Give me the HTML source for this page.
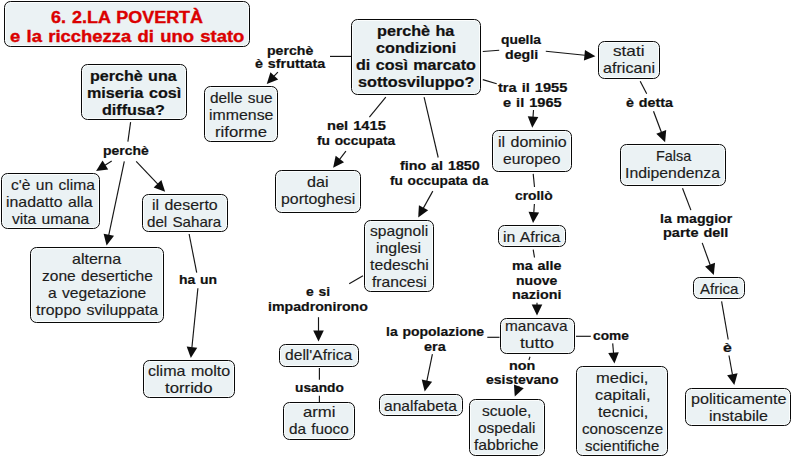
<!DOCTYPE html><html><head><meta charset="utf-8"><style>
html,body{margin:0;padding:0;background:#fff;width:793px;height:457px;overflow:hidden;position:relative}
.bx{position:absolute;box-sizing:border-box;border:1.4px solid #080808;border-radius:6.5px;background:#ebf2f4;box-shadow:inset 0 0 0 1px #fbfdfd}
.t{position:absolute;white-space:nowrap;transform-origin:0 0;font-family:"Liberation Sans",sans-serif}.n{-webkit-text-stroke:0.15px #1c1c1c}.k{-webkit-text-stroke:0.2px #111}.r{-webkit-text-stroke:0.35px #d00000}
svg{position:absolute;left:0;top:0}
</style></head><body>
<svg width="793" height="457" viewBox="0 0 793 457"><g stroke="#151515" stroke-width="1.15" fill="none" stroke-linecap="butt"><line x1="330" y1="56.4" x2="351" y2="56.4"/><line x1="482.8" y1="51.5" x2="499.2" y2="50.2"/><line x1="482.8" y1="79.6" x2="496.7" y2="83.7"/><line x1="640.2" y1="81.2" x2="646.7" y2="93.8"/><line x1="130.6" y1="122.2" x2="127.9" y2="141.6"/><line x1="385.8" y1="97.1" x2="369.4" y2="117.2"/><line x1="424.1" y1="97.1" x2="438.2" y2="157.5"/><line x1="533.2" y1="173.9" x2="534.5" y2="187"/><line x1="682.5" y1="188.3" x2="690.9" y2="210.1"/><line x1="189.1" y1="234" x2="196.7" y2="272.6"/><line x1="363" y1="275.7" x2="349.2" y2="283.7"/><line x1="319.4" y1="368" x2="319.4" y2="379.8"/><line x1="319.4" y1="395.7" x2="319.4" y2="402"/><line x1="533.2" y1="249.7" x2="534.5" y2="257.5"/><line x1="499.5" y1="337.3" x2="487.3" y2="337.3"/><line x1="576" y1="336.3" x2="590.8" y2="336.3"/><line x1="530" y1="356.7" x2="528.9" y2="360"/><line x1="721.6" y1="301.3" x2="728.2" y2="339.5"/><line x1="277.9" y1="72.1" x2="274.04" y2="76.21"/><line x1="545.8" y1="51.3" x2="584.85" y2="55.2"/><line x1="533.5" y1="110" x2="533" y2="117.12"/><line x1="653.5" y1="111.3" x2="661.38" y2="132.24"/><line x1="111.7" y1="161" x2="105.04" y2="165.23"/><line x1="124.3" y1="161.3" x2="108.76" y2="235.11"/><line x1="136.2" y1="161.3" x2="157.81" y2="184.05"/><line x1="345.9" y1="151.2" x2="339.6" y2="159.38"/><line x1="432.8" y1="191.1" x2="423.35" y2="208.15"/><line x1="534.4" y1="204" x2="533.8" y2="212.42"/><line x1="702.2" y1="242.9" x2="710.2" y2="265"/><line x1="197.9" y1="288.3" x2="191.91" y2="347.55"/><line x1="318.5" y1="317.2" x2="318.5" y2="330.9"/><line x1="537" y1="302.8" x2="537" y2="305"/><line x1="432.4" y1="354.2" x2="426.83" y2="381.01"/><line x1="612.7" y1="343.4" x2="613.54" y2="353.04"/><line x1="519" y1="386" x2="518.71" y2="386.72"/><line x1="729" y1="355.5" x2="732.44" y2="374.66"/></g><g fill="#0d0d0d" stroke="none"><polygon points="266.79,83.94 270.45,72.29 278.18,79.54"/><polygon points="595.4,56.26 583.92,60.44 584.98,49.89"/><polygon points="532.26,127.7 527.74,116.35 538.32,117.1"/><polygon points="665.11,142.16 656.28,133.73 666.2,130"/><polygon points="96.09,170.92 102.53,160.55 108.22,169.49"/><polygon points="106.58,245.49 103.66,233.63 114.03,235.81"/><polygon points="165.11,191.73 153.69,187.41 161.38,180.11"/><polygon points="333.13,167.78 335.65,155.83 344.04,162.29"/><polygon points="418.21,217.42 418.91,205.23 428.18,210.37"/><polygon points="533.06,223 528.55,211.65 539.12,212.4"/><polygon points="713.8,274.96 705.08,266.42 715.04,262.82"/><polygon points="190.84,358.1 186.67,346.62 197.22,347.69"/><polygon points="318.5,341.5 313.2,330.5 323.8,330.5"/><polygon points="537,315.6 531.7,304.6 542.3,304.6"/><polygon points="424.68,391.39 421.73,379.54 432.1,381.69"/><polygon points="614.45,363.6 608.22,353.1 618.78,352.18"/><polygon points="514.78,396.56 513.94,384.38 523.78,388.31"/><polygon points="734.31,385.09 727.15,375.2 737.58,373.33"/></g></svg>
<div class="bx" style="left:4px;top:1px;width:246px;height:46px"></div>
<div class="bx" style="left:81px;top:64px;width:106px;height:56px"></div>
<div class="bx" style="left:351px;top:19px;width:130px;height:76px"></div>
<div class="bx" style="left:204px;top:86px;width:74px;height:56px"></div>
<div class="bx" style="left:598px;top:41px;width:62px;height:38px"></div>
<div class="bx" style="left:1px;top:173px;width:99px;height:56px"></div>
<div class="bx" style="left:142px;top:194px;width:86px;height:38px"></div>
<div class="bx" style="left:275px;top:170px;width:86px;height:43px"></div>
<div class="bx" style="left:492px;top:130px;width:80px;height:42px"></div>
<div class="bx" style="left:620px;top:144px;width:106px;height:42px"></div>
<div class="bx" style="left:30px;top:247px;width:134px;height:76px"></div>
<div class="bx" style="left:364px;top:220px;width:70px;height:72px"></div>
<div class="bx" style="left:498px;top:225px;width:68px;height:22px"></div>
<div class="bx" style="left:693px;top:277px;width:52px;height:22px"></div>
<div class="bx" style="left:143px;top:360px;width:92px;height:38px"></div>
<div class="bx" style="left:279px;top:344px;width:80px;height:23px"></div>
<div class="bx" style="left:283px;top:402px;width:72px;height:38px"></div>
<div class="bx" style="left:500px;top:318px;width:75px;height:36px"></div>
<div class="bx" style="left:379px;top:394px;width:84px;height:22px"></div>
<div class="bx" style="left:469px;top:399px;width:76px;height:57px"></div>
<div class="bx" style="left:576px;top:366px;width:92px;height:90px"></div>
<div class="bx" style="left:685px;top:388px;width:106px;height:38px"></div>
<div class="t r" style="left:51.27px;top:8.51px;font-size:15.6px;line-height:18.72px;font-weight:bold;color:#df0000;transform:scaleX(1.1491);word-spacing:1px">6. 2.LA POVERTÀ</div>
<div class="t r" style="left:10.16px;top:27.51px;font-size:15.6px;line-height:18.72px;font-weight:bold;color:#df0000;transform:scaleX(1.1820);word-spacing:1px">e la ricchezza di uno stato</div>
<div class="t k" style="left:89.86px;top:67.5px;font-size:14px;line-height:16.8px;font-weight:bold;color:#111;transform:scaleX(1.1483);word-spacing:0.8px">perchè una</div>
<div class="t k" style="left:86.85px;top:84.5px;font-size:14px;line-height:16.8px;font-weight:bold;color:#111;transform:scaleX(1.1532);word-spacing:0.8px">miseria così</div>
<div class="t k" style="left:102.35px;top:101.5px;font-size:14px;line-height:16.8px;font-weight:bold;color:#111;transform:scaleX(1.1538);word-spacing:0.8px">diffusa?</div>
<div class="t k" style="left:376.65px;top:22.5px;font-size:14px;line-height:16.8px;font-weight:bold;color:#111;transform:scaleX(1.1559);word-spacing:0.8px">perchè ha</div>
<div class="t k" style="left:375.95px;top:39.5px;font-size:14px;line-height:16.8px;font-weight:bold;color:#111;transform:scaleX(1.1597);word-spacing:0.8px">condizioni</div>
<div class="t k" style="left:355.86px;top:56.5px;font-size:14px;line-height:16.8px;font-weight:bold;color:#111;transform:scaleX(1.1496);word-spacing:0.8px">di così marcato</div>
<div class="t k" style="left:357.83px;top:73.5px;font-size:14px;line-height:16.8px;font-weight:bold;color:#111;transform:scaleX(1.1600);word-spacing:0.8px">sottosviluppo?</div>
<div class="t n" style="left:209.88px;top:89.51px;font-size:14.6px;line-height:17.52px;font-weight:normal;color:#1c1c1c;transform:scaleX(1.0541);word-spacing:0.9px">delle sue</div>
<div class="t n" style="left:208.67px;top:106.51px;font-size:14.6px;line-height:17.52px;font-weight:normal;color:#1c1c1c;transform:scaleX(1.0886);word-spacing:0.9px">immense</div>
<div class="t n" style="left:214.81px;top:123.51px;font-size:14.6px;line-height:17.52px;font-weight:normal;color:#1c1c1c;transform:scaleX(1.1461);word-spacing:0.9px">riforme</div>
<div class="t n" style="left:613.28px;top:42.51px;font-size:14.6px;line-height:17.52px;font-weight:normal;color:#1c1c1c;transform:scaleX(1.1764);word-spacing:0.9px">stati</div>
<div class="t n" style="left:602.85px;top:59.51px;font-size:14.6px;line-height:17.52px;font-weight:normal;color:#1c1c1c;transform:scaleX(1.1082);word-spacing:0.9px">africani</div>
<div class="t n" style="left:10.68px;top:176.51px;font-size:14.6px;line-height:17.52px;font-weight:normal;color:#1c1c1c;transform:scaleX(1.0698);word-spacing:0.9px">c&#39;è un clima</div>
<div class="t n" style="left:6.47px;top:193.51px;font-size:14.6px;line-height:17.52px;font-weight:normal;color:#1c1c1c;transform:scaleX(1.0884);word-spacing:0.9px">inadatto alla</div>
<div class="t n" style="left:11.52px;top:210.51px;font-size:14.6px;line-height:17.52px;font-weight:normal;color:#1c1c1c;transform:scaleX(1.0689);word-spacing:0.9px">vita umana</div>
<div class="t n" style="left:151.76px;top:196.51px;font-size:14.6px;line-height:17.52px;font-weight:normal;color:#1c1c1c;transform:scaleX(1.0927);word-spacing:0.9px">il deserto</div>
<div class="t n" style="left:146.89px;top:213.51px;font-size:14.6px;line-height:17.52px;font-weight:normal;color:#1c1c1c;transform:scaleX(1.0394);word-spacing:0.9px">del Sahara</div>
<div class="t n" style="left:307.45px;top:173.51px;font-size:14.6px;line-height:17.52px;font-weight:normal;color:#1c1c1c;transform:scaleX(1.1071);word-spacing:0.9px">dai</div>
<div class="t n" style="left:280.87px;top:190.51px;font-size:14.6px;line-height:17.52px;font-weight:normal;color:#1c1c1c;transform:scaleX(1.0893);word-spacing:0.9px">portoghesi</div>
<div class="t n" style="left:497.96px;top:133.51px;font-size:14.6px;line-height:17.52px;font-weight:normal;color:#1c1c1c;transform:scaleX(1.0974);word-spacing:0.9px">il dominio</div>
<div class="t n" style="left:503.37px;top:150.51px;font-size:14.6px;line-height:17.52px;font-weight:normal;color:#1c1c1c;transform:scaleX(1.0722);word-spacing:0.9px">europeo</div>
<div class="t n" style="left:655.55px;top:147.51px;font-size:14.6px;line-height:17.52px;font-weight:normal;color:#1c1c1c;transform:scaleX(0.9876);word-spacing:0.9px">Falsa</div>
<div class="t n" style="left:625.28px;top:164.51px;font-size:14.6px;line-height:17.52px;font-weight:normal;color:#1c1c1c;transform:scaleX(1.0838);word-spacing:0.9px">Indipendenza</div>
<div class="t n" style="left:72.46px;top:250.51px;font-size:14.6px;line-height:17.52px;font-weight:normal;color:#1c1c1c;transform:scaleX(1.0995);word-spacing:0.9px">alterna</div>
<div class="t n" style="left:41.88px;top:267.51px;font-size:14.6px;line-height:17.52px;font-weight:normal;color:#1c1c1c;transform:scaleX(1.0668);word-spacing:0.9px">zone desertiche</div>
<div class="t n" style="left:48.17px;top:284.51px;font-size:14.6px;line-height:17.52px;font-weight:normal;color:#1c1c1c;transform:scaleX(1.0713);word-spacing:0.9px">a vegetazione</div>
<div class="t n" style="left:36.16px;top:301.51px;font-size:14.6px;line-height:17.52px;font-weight:normal;color:#1c1c1c;transform:scaleX(1.0889);word-spacing:0.9px">troppo sviluppata</div>
<div class="t n" style="left:370.03px;top:222.51px;font-size:14.6px;line-height:17.52px;font-weight:normal;color:#1c1c1c;transform:scaleX(1.0699);word-spacing:0.9px">spagnoli</div>
<div class="t n" style="left:376.47px;top:239.51px;font-size:14.6px;line-height:17.52px;font-weight:normal;color:#1c1c1c;transform:scaleX(1.0888);word-spacing:0.9px">inglesi</div>
<div class="t n" style="left:369.76px;top:256.51px;font-size:14.6px;line-height:17.52px;font-weight:normal;color:#1c1c1c;transform:scaleX(1.0805);word-spacing:0.9px">tedeschi</div>
<div class="t n" style="left:371.77px;top:273.51px;font-size:14.6px;line-height:17.52px;font-weight:normal;color:#1c1c1c;transform:scaleX(1.0715);word-spacing:0.9px">francesi</div>
<div class="t n" style="left:502.57px;top:228.51px;font-size:14.6px;line-height:17.52px;font-weight:normal;color:#1c1c1c;transform:scaleX(1.0838);word-spacing:0.9px">in Africa</div>
<div class="t n" style="left:699.6px;top:280.51px;font-size:14.6px;line-height:17.52px;font-weight:normal;color:#1c1c1c;transform:scaleX(1.0294);word-spacing:0.9px">Africa</div>
<div class="t n" style="left:147.66px;top:362.51px;font-size:14.6px;line-height:17.52px;font-weight:normal;color:#1c1c1c;transform:scaleX(1.1015);word-spacing:0.9px">clima molto</div>
<div class="t n" style="left:165.45px;top:379.51px;font-size:14.6px;line-height:17.52px;font-weight:normal;color:#1c1c1c;transform:scaleX(1.1481);word-spacing:0.9px">torrido</div>
<div class="t n" style="left:284.97px;top:346.51px;font-size:14.6px;line-height:17.52px;font-weight:normal;color:#1c1c1c;transform:scaleX(1.0712);word-spacing:0.9px">dell&#39;Africa</div>
<div class="t n" style="left:303.03px;top:403.51px;font-size:14.6px;line-height:17.52px;font-weight:normal;color:#1c1c1c;transform:scaleX(1.1459);word-spacing:0.9px">armi</div>
<div class="t n" style="left:288.89px;top:420.51px;font-size:14.6px;line-height:17.52px;font-weight:normal;color:#1c1c1c;transform:scaleX(1.0516);word-spacing:0.9px">da fuoco</div>
<div class="t n" style="left:504.7px;top:317.51px;font-size:14.6px;line-height:17.52px;font-weight:normal;color:#1c1c1c;transform:scaleX(1.0557);word-spacing:0.9px">mancava</div>
<div class="t n" style="left:519.74px;top:334.51px;font-size:14.6px;line-height:17.52px;font-weight:normal;color:#1c1c1c;transform:scaleX(1.1995);word-spacing:0.9px">tutto</div>
<div class="t n" style="left:384.08px;top:397.51px;font-size:14.6px;line-height:17.52px;font-weight:normal;color:#1c1c1c;transform:scaleX(1.0696);word-spacing:0.9px">analfabeta</div>
<div class="t n" style="left:482.13px;top:402.51px;font-size:14.6px;line-height:17.52px;font-weight:normal;color:#1c1c1c;transform:scaleX(1.0689);word-spacing:0.9px">scuole,</div>
<div class="t n" style="left:477.88px;top:419.51px;font-size:14.6px;line-height:17.52px;font-weight:normal;color:#1c1c1c;transform:scaleX(1.0558);word-spacing:0.9px">ospedali</div>
<div class="t n" style="left:474.46px;top:436.51px;font-size:14.6px;line-height:17.52px;font-weight:normal;color:#1c1c1c;transform:scaleX(1.0760);word-spacing:0.9px">fabbriche</div>
<div class="t n" style="left:596.32px;top:369.51px;font-size:14.6px;line-height:17.52px;font-weight:normal;color:#1c1c1c;transform:scaleX(1.1336);word-spacing:0.9px">medici,</div>
<div class="t n" style="left:594.64px;top:386.51px;font-size:14.6px;line-height:17.52px;font-weight:normal;color:#1c1c1c;transform:scaleX(1.1223);word-spacing:0.9px">capitali,</div>
<div class="t n" style="left:597.66px;top:403.51px;font-size:14.6px;line-height:17.52px;font-weight:normal;color:#1c1c1c;transform:scaleX(1.1082);word-spacing:0.9px">tecnici,</div>
<div class="t n" style="left:581.59px;top:420.51px;font-size:14.6px;line-height:17.52px;font-weight:normal;color:#1c1c1c;transform:scaleX(1.0424);word-spacing:0.9px">conoscenze</div>
<div class="t n" style="left:585.35px;top:437.51px;font-size:14.6px;line-height:17.52px;font-weight:normal;color:#1c1c1c;transform:scaleX(1.0281);word-spacing:0.9px">scientifiche</div>
<div class="t n" style="left:690.65px;top:390.51px;font-size:14.6px;line-height:17.52px;font-weight:normal;color:#1c1c1c;transform:scaleX(1.1103);word-spacing:0.9px">politicamente</div>
<div class="t n" style="left:708.85px;top:407.51px;font-size:14.6px;line-height:17.52px;font-weight:normal;color:#1c1c1c;transform:scaleX(1.1024);word-spacing:0.9px">instabile</div>
<div class="t k" style="left:267.38px;top:43.51px;font-size:12.6px;line-height:15.12px;font-weight:bold;color:#111;transform:scaleX(1.1206);word-spacing:0.8px">perchè</div>
<div class="t k" style="left:254.83px;top:56.51px;font-size:12.6px;line-height:15.12px;font-weight:bold;color:#111;transform:scaleX(1.1379);word-spacing:0.8px">è sfruttata</div>
<div class="t k" style="left:500.95px;top:32.51px;font-size:12.6px;line-height:15.12px;font-weight:bold;color:#111;transform:scaleX(1.0989);word-spacing:0.8px">quella</div>
<div class="t k" style="left:505.23px;top:47.51px;font-size:12.6px;line-height:15.12px;font-weight:bold;color:#111;transform:scaleX(1.1272);word-spacing:0.8px">degli</div>
<div class="t k" style="left:498.25px;top:80.51px;font-size:12.6px;line-height:15.12px;font-weight:bold;color:#111;transform:scaleX(1.1600);word-spacing:0.8px">tra il 1955</div>
<div class="t k" style="left:503.32px;top:95.51px;font-size:12.6px;line-height:15.12px;font-weight:bold;color:#111;transform:scaleX(1.1588);word-spacing:0.8px">e il 1965</div>
<div class="t k" style="left:625.93px;top:95.51px;font-size:12.6px;line-height:15.12px;font-weight:bold;color:#111;transform:scaleX(1.1343);word-spacing:0.8px">è detta</div>
<div class="t k" style="left:102.99px;top:143.51px;font-size:12.6px;line-height:15.12px;font-weight:bold;color:#111;transform:scaleX(1.1081);word-spacing:0.8px">perchè</div>
<div class="t k" style="left:326.75px;top:118.51px;font-size:12.6px;line-height:15.12px;font-weight:bold;color:#111;transform:scaleX(1.1646);word-spacing:0.8px">nel 1415</div>
<div class="t k" style="left:316.99px;top:133.51px;font-size:12.6px;line-height:15.12px;font-weight:bold;color:#111;transform:scaleX(1.0935);word-spacing:0.8px">fu occupata</div>
<div class="t k" style="left:399.89px;top:158.51px;font-size:12.6px;line-height:15.12px;font-weight:bold;color:#111;transform:scaleX(1.1365);word-spacing:0.8px">fino al 1850</div>
<div class="t k" style="left:390.09px;top:173.51px;font-size:12.6px;line-height:15.12px;font-weight:bold;color:#111;transform:scaleX(1.0870);word-spacing:0.8px">fu occupata da</div>
<div class="t k" style="left:515.05px;top:188.51px;font-size:12.6px;line-height:15.12px;font-weight:bold;color:#111;transform:scaleX(1.0973);word-spacing:0.8px">crollò</div>
<div class="t k" style="left:659.61px;top:211.51px;font-size:12.6px;line-height:15.12px;font-weight:bold;color:#111;transform:scaleX(1.1199);word-spacing:0.8px">la maggior</div>
<div class="t k" style="left:663.46px;top:225.51px;font-size:12.6px;line-height:15.12px;font-weight:bold;color:#111;transform:scaleX(1.1510);word-spacing:0.8px">parte dell</div>
<div class="t k" style="left:178.82px;top:272.51px;font-size:12.6px;line-height:15.12px;font-weight:bold;color:#111;transform:scaleX(1.1087);word-spacing:0.8px">ha un</div>
<div class="t k" style="left:305.84px;top:284.51px;font-size:12.6px;line-height:15.12px;font-weight:bold;color:#111;transform:scaleX(1.1048);word-spacing:0.8px">e si</div>
<div class="t k" style="left:267.51px;top:299.51px;font-size:12.6px;line-height:15.12px;font-weight:bold;color:#111;transform:scaleX(1.1233);word-spacing:0.8px">impadronirono</div>
<div class="t k" style="left:511.57px;top:258.51px;font-size:12.6px;line-height:15.12px;font-weight:bold;color:#111;transform:scaleX(1.1360);word-spacing:0.8px">ma alle</div>
<div class="t k" style="left:515.89px;top:273.51px;font-size:12.6px;line-height:15.12px;font-weight:bold;color:#111;transform:scaleX(1.1131);word-spacing:0.8px">nuove</div>
<div class="t k" style="left:512.07px;top:287.51px;font-size:12.6px;line-height:15.12px;font-weight:bold;color:#111;transform:scaleX(1.1389);word-spacing:0.8px">nazioni</div>
<div class="t k" style="left:295.08px;top:380.51px;font-size:12.6px;line-height:15.12px;font-weight:bold;color:#111;transform:scaleX(1.0888);word-spacing:0.8px">usando</div>
<div class="t k" style="left:386.02px;top:324.51px;font-size:12.6px;line-height:15.12px;font-weight:bold;color:#111;transform:scaleX(1.1105);word-spacing:0.8px">la popolazione</div>
<div class="t k" style="left:423.72px;top:339.51px;font-size:12.6px;line-height:15.12px;font-weight:bold;color:#111;transform:scaleX(1.1446);word-spacing:0.8px">era</div>
<div class="t k" style="left:593.25px;top:328.51px;font-size:12.6px;line-height:15.12px;font-weight:bold;color:#111;transform:scaleX(1.0895);word-spacing:0.8px">come</div>
<div class="t k" style="left:509.07px;top:358.51px;font-size:12.6px;line-height:15.12px;font-weight:bold;color:#111;transform:scaleX(1.1404);word-spacing:0.8px">non</div>
<div class="t k" style="left:486.04px;top:372.51px;font-size:12.6px;line-height:15.12px;font-weight:bold;color:#111;transform:scaleX(1.1133);word-spacing:0.8px">esistevano</div>
<div class="t k" style="left:723.47px;top:340.51px;font-size:12.6px;line-height:15.12px;font-weight:bold;color:#111;transform:scaleX(1.2566);word-spacing:0.8px">è</div>
</body></html>
